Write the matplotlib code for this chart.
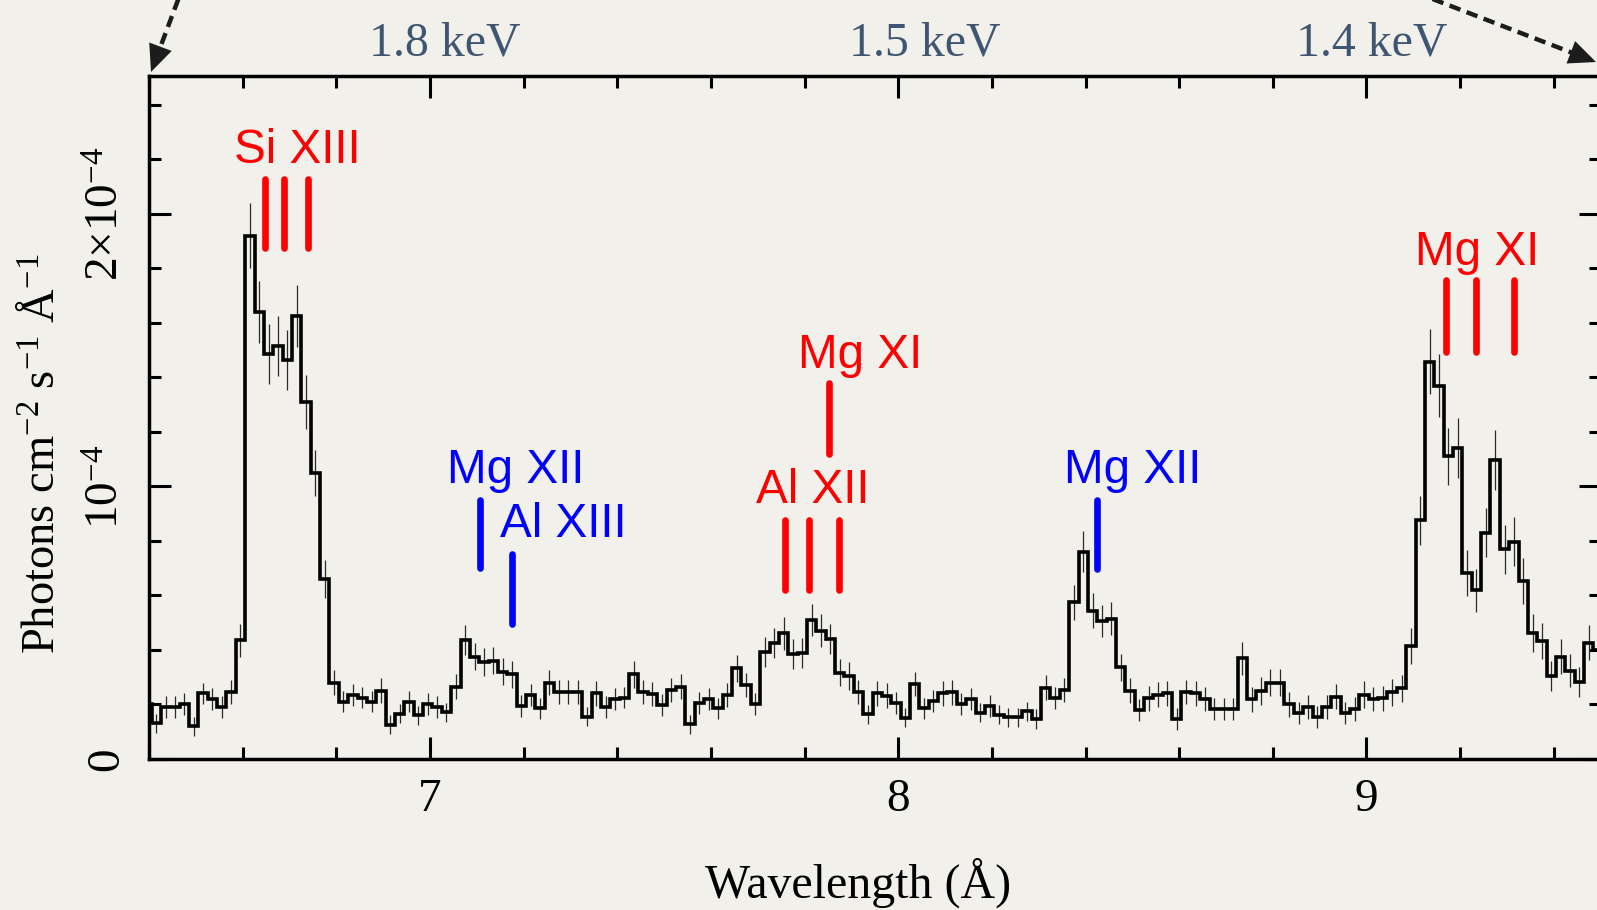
import numpy as np
import matplotlib
matplotlib.use("Agg")
import matplotlib.pyplot as plt
from matplotlib.ticker import MultipleLocator
from matplotlib.lines import Line2D
from matplotlib.patches import Polygon

# ---------------- data ----------------
bin_start = 6.385      # left edge of first bin (Angstrom)
bin_width = 0.02       # bin width (Angstrom)

# flux in units of 1e-4 photons cm^-2 s^-1 A^-1, one value per bin
flux = [
    0.20, 0.13, 0.19, 0.19, 0.20, 0.12, 0.24, 0.22, 0.19, 0.245,
    0.435, 1.92, 1.64, 1.485, 1.515, 1.465, 1.625, 1.31, 1.05, 0.66,
    0.28, 0.21, 0.235, 0.225, 0.21, 0.25, 0.125, 0.165, 0.21, 0.16,
    0.20, 0.19, 0.17, 0.265, 0.435, 0.375, 0.355, 0.36, 0.32, 0.31,
    0.195, 0.235, 0.185, 0.28, 0.245, 0.245, 0.245, 0.155, 0.24, 0.19,
    0.22, 0.225, 0.31, 0.245, 0.238, 0.197, 0.252, 0.265, 0.126, 0.204,
    0.22, 0.185, 0.234, 0.332, 0.271, 0.201, 0.393, 0.426, 0.46, 0.383,
    0.389, 0.509, 0.47, 0.439, 0.316, 0.304, 0.246, 0.163, 0.24, 0.232,
    0.204, 0.151, 0.274, 0.185, 0.213, 0.24, 0.244, 0.20, 0.22, 0.169,
    0.195, 0.161, 0.152, 0.152, 0.175, 0.146, 0.261, 0.222, 0.252, 0.574,
    0.76, 0.544, 0.506, 0.514, 0.336, 0.25, 0.18, 0.222, 0.236, 0.24,
    0.145, 0.246, 0.24, 0.219, 0.183, 0.183, 0.183, 0.369, 0.218, 0.249,
    0.279, 0.279, 0.20, 0.167, 0.191, 0.152, 0.191, 0.228, 0.167, 0.183,
    0.236, 0.219, 0.222, 0.244, 0.259, 0.414, 0.876, 1.458, 1.37, 1.11,
    1.14, 0.683, 0.618, 0.83, 1.097, 0.77, 0.797, 0.652, 0.463, 0.433,
    0.304, 0.375, 0.323, 0.283, 0.426, 0.40,
]

flux_err = [
    0.04, 0.035, 0.04, 0.04, 0.04, 0.035, 0.04, 0.04, 0.04, 0.045,
    0.06, 0.12, 0.115, 0.11, 0.11, 0.11, 0.115, 0.10, 0.085, 0.07,
    0.045, 0.04, 0.04, 0.04, 0.04, 0.045, 0.035, 0.035, 0.04, 0.035,
    0.04, 0.04, 0.035, 0.045, 0.055, 0.05, 0.05, 0.05, 0.05, 0.05,
    0.04, 0.04, 0.04, 0.045, 0.045, 0.045, 0.045, 0.035, 0.045, 0.04,
    0.04, 0.04, 0.05, 0.045, 0.045, 0.04, 0.045, 0.045, 0.035, 0.04,
    0.04, 0.04, 0.045, 0.05, 0.045, 0.04, 0.055, 0.055, 0.06, 0.055,
    0.055, 0.06, 0.06, 0.055, 0.05, 0.05, 0.045, 0.035, 0.045, 0.045,
    0.04, 0.035, 0.045, 0.04, 0.04, 0.045, 0.045, 0.04, 0.04, 0.035,
    0.04, 0.035, 0.035, 0.035, 0.035, 0.035, 0.045, 0.04, 0.045, 0.065,
    0.075, 0.065, 0.06, 0.06, 0.05, 0.045, 0.04, 0.045, 0.045, 0.045,
    0.04, 0.045, 0.045, 0.045, 0.04, 0.04, 0.04, 0.06, 0.045, 0.05,
    0.05, 0.05, 0.045, 0.04, 0.045, 0.04, 0.045, 0.045, 0.04, 0.045,
    0.05, 0.045, 0.045, 0.05, 0.05, 0.065, 0.09, 0.12, 0.115, 0.105,
    0.11, 0.085, 0.08, 0.09, 0.11, 0.09, 0.09, 0.085, 0.07, 0.065,
    0.055, 0.065, 0.06, 0.055, 0.065, 0.06,
]

# identified lines: wavelengths (A) and marker extent (1e-4 units)
si13_wl = [6.647, 6.688, 6.740]
si13_y = (1.875, 2.13)
mg12b_wl = [7.107]
mg12b_y = (0.70, 0.95)
al13_wl = [7.176]
al13_y = (0.495, 0.75)
al12_wl = [7.758, 7.809, 7.874]
al12_y = (0.62, 0.877)
mg11b_wl = [7.852]
mg11b_y = (1.12, 1.378)
mg12a_wl = [8.425]
mg12a_y = (0.696, 0.95)
mg11a_wl = [9.170, 9.233, 9.316]
mg11a_y = (1.494, 1.757)

energy_labels = ["1.8 keV", "1.5 keV", "1.4 keV"]
xtick_major = [7, 8, 9]
ytick_vals = [0, 1, 2]
ytick_text = ["0", r"10$^{-4}$", r"2×10$^{-4}$"]

# ---------------- style ----------------
W, H = 1597, 910
BG = "#F2F0EB"
RED = "#FF0000"
BLUE = "#0000FF"
SERIF = "Liberation Serif"
SANS = "Liberation Sans"

plt.rcParams["font.family"] = [SERIF, "DejaVu Serif"]
plt.rcParams["mathtext.fontset"] = "custom"
plt.rcParams["mathtext.rm"] = SERIF
plt.rcParams["mathtext.it"] = SERIF + ":italic"
plt.rcParams["mathtext.bf"] = SERIF + ":bold"

fig = plt.figure(figsize=(W / 100, H / 100), dpi=100, facecolor=BG)
ax_left, ax_right = 149.2 / W, 1600.5 / W
ax_top, ax_bot = 1 - 76.4 / H, 1 - 758.8 / H
ax = fig.add_axes([ax_left, ax_bot, ax_right - ax_left, ax_top - ax_bot])
ax.set_facecolor(BG)

flux_a = np.array(flux)
err_a = np.array(flux_err)
edges = bin_start + bin_width * np.arange(len(flux_a) + 1)
centers = 0.5 * (edges[:-1] + edges[1:])

ax.vlines(centers, flux_a - err_a, flux_a + err_a, color="#2a2a2a",
          lw=0.9, zorder=2)
ax.stairs(flux_a, edges, baseline=None, color="black", lw=2.6, zorder=3)

# line markers
for wl, yr, col in [(si13_wl, si13_y, RED), (mg12b_wl, mg12b_y, BLUE),
                    (al13_wl, al13_y, BLUE), (al12_wl, al12_y, RED),
                    (mg11b_wl, mg11b_y, RED), (mg12a_wl, mg12a_y, BLUE),
                    (mg11a_wl, mg11a_y, RED)]:
    for w in wl:
        ax.add_line(Line2D([w, w], list(yr), color=col, solid_capstyle="round",
                           lw=4.8, zorder=4))

lbl = dict(fontsize=34.3, family=[SANS, "DejaVu Sans"], ha="center",
           va="baseline", zorder=5)
ax.text(6.716, 2.187, "Si XIII", color=RED, **lbl)
ax.text(7.182, 1.013, "Mg XII", color=BLUE, **lbl)
ax.text(7.285, 0.816, "Al XIII", color=BLUE, **lbl)
ax.text(7.919, 1.434, "Mg XI", color=RED, **lbl)
ax.text(7.818, 0.940, "Al XII", color=RED, **lbl)
ax.text(8.501, 1.013, "Mg XII", color=BLUE, **lbl)
ax.text(9.237, 1.813, "Mg XI", color=RED, **lbl)

# axes
ax.set_xlim(6.4, 9.5)
ax.set_ylim(0, 2.505)
ax.xaxis.set_major_locator(MultipleLocator(1))
ax.xaxis.set_minor_locator(MultipleLocator(0.2))
ax.yaxis.set_minor_locator(MultipleLocator(0.2))
ax.set_xticks(xtick_major)
ax.set_xticklabels([str(v) for v in xtick_major])
ax.set_yticks(ytick_vals)
ax.set_yticklabels(ytick_text)
for s in ax.spines.values():
    s.set_linewidth(2.5)
ax.tick_params(which="both", direction="in", top=True, right=True,
               width=2.2, colors="black")
ax.tick_params(which="major", length=15.8)
ax.tick_params(which="minor", length=8.6)
ax.tick_params(axis="x", which="major", labelsize=34, pad=14)
ax.tick_params(axis="y", which="major", labelsize=34, pad=22)
for t in ax.get_yticklabels():
    t.set_rotation(90)
    t.set_rotation_mode("anchor")
    t.set_ha("center")
    t.set_va("baseline")

# axis labels
fig.text(858.5 / W, 1 - 898 / H, "Wavelength (Å)", fontsize=34.5,
         ha="center", va="baseline")
fig.text(53.6 / W, 1 - 453.5 / H, r"Photons cm$^{-2}$ s$^{-1}$ Å$^{-1}$",
         fontsize=33.5, rotation=90, rotation_mode="anchor",
         ha="center", va="baseline")

# energy labels above the axes
for txt, xc in zip(energy_labels, [445, 925, 1372]):
    fig.text(xc / W, 1 - 55 / H, txt, fontsize=34.5, color="#3F5672",
             ha="center", va="baseline")


# dashed arrows in pixel coordinates
def px(x, y):
    return (x / W, 1 - y / H)


def dashed_arrow(start, tip, head_len=27, half_w=12):
    sx, sy = start
    tx, ty = tip
    v = np.array([tx - sx, ty - sy], dtype=float)
    u = v / np.hypot(*v)
    n = np.array([-u[1], u[0]])
    base = np.array([tx, ty]) - head_len * u
    p0 = px(sx, sy)
    p1 = px(base[0] + 3 * u[0], base[1] + 3 * u[1])
    fig.add_artist(Line2D([p0[0], p1[0]], [p0[1], p1[1]],
                          transform=fig.transFigure, color="#1c1c1c",
                          lw=3.2, linestyle=(0, (2.6, 1.5))))
    b1 = base + half_w * n
    b2 = base - half_w * n
    tri = [px(tx, ty), px(*b1), px(*b2)]
    fig.add_artist(Polygon(tri, closed=True, transform=fig.transFigure,
                           color="#1c1c1c", lw=0))


dashed_arrow((181, -8), (151, 72))
dashed_arrow((1430, -2), (1596, 62))

fig.savefig("out.png", dpi=100, facecolor=BG)
